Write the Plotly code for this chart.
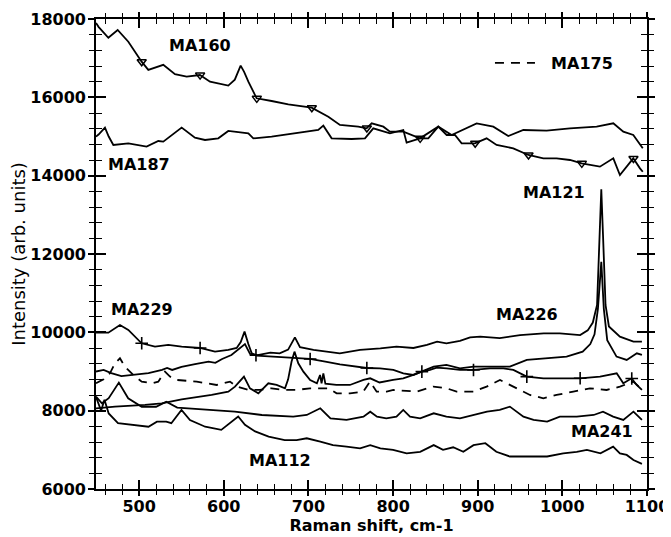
import numpy as np
import plotly.graph_objects as go

# ---------------- data (Raman shift in cm-1, intensity in arb. units) ----------------
ma160_x = [449, 452, 463.6, 474.6, 487.2, 502.9, 510.8, 528.5, 542.3, 556.1, 571.8, 583.7, 605.3, 613, 619.9,
           624, 629, 638.8, 656.5, 676.2, 703.8, 723.5, 737.2, 758.9, 768.7, 774.7, 788.5, 796.3, 812.1, 831.8,
           841.6, 853.4, 863.3, 873.1, 881, 896.7, 910.5, 922.3, 942, 959.8, 977.5, 993.2, 1009, 1022.8, 1044.4,
           1060.2, 1068, 1083.8, 1091.7, 1095]
ma160_y = [17900, 17800, 17520, 17720, 17420, 16910, 16700, 16830, 16590, 16530, 16570, 16400, 16300, 16450, 16810,
           16650, 16400, 15975, 15906, 15821, 15736, 15506, 15294, 15251, 15209, 15336, 15251, 15123, 15123, 14953,
           14953, 15251, 15038, 15038, 14826, 14826, 14953, 14783, 14698, 14528, 14443, 14443, 14400, 14315, 14230,
           14443, 14017, 14443, 14187, 14100]
ma160_marks = [503, 572, 639, 704, 769, 832, 897, 960, 1023, 1084]

ma187_x = [449, 452, 459.6, 464, 469.5, 487.2, 508.8, 522.6, 528.5, 550.2, 565.9, 577.8, 593.5, 605.3, 629,
           634.9, 656.5, 684.1, 711.6, 717.6, 727.4, 751, 766.8, 776.6, 796.3, 812.1, 816, 831.8, 853.4, 869.2,
           886.9, 898.7, 918.4, 936.1, 953.9, 981.4, 1009, 1040.5, 1060.2, 1072, 1083.8, 1091.7, 1095]
ma187_y = [14996, 15050, 15226, 15000, 14783, 14826, 14741, 14885, 14868, 15226, 14970, 14911, 14953, 15141, 15081,
           14953, 14996, 15081, 15166, 15277, 14953, 14936, 14953, 15209, 15081, 15166, 14843, 14953, 15251, 15038,
           15208, 15336, 15251, 15013, 15166, 15149, 15208, 15251, 15336, 15123, 15038, 14783, 14700]

ma121_x = [449, 458, 467, 479, 495, 511, 527, 533, 539, 550, 566, 582, 590, 598, 609, 619, 625, 631, 640, 655,
           666, 676, 684, 690, 706, 737, 761, 785, 804, 824, 840, 852, 863, 879, 891, 903, 926, 950, 978, 997,
           1021, 1030, 1036, 1041, 1044, 1046, 1048, 1051, 1055, 1068, 1084, 1094]
ma121_y = [9000, 9040, 8960, 8880, 8920, 8960, 9040, 9090, 9040, 9120, 9190, 9250, 9220, 9320, 9420, 9600, 9700,
           9450, 9420, 9480, 9465, 9560, 9870, 9620, 9550, 9465, 9550, 9592, 9635, 9600, 9677, 9762, 9720, 9780,
           9870, 9890, 9850, 9930, 9975, 9975, 9930, 10050, 10250, 10700, 12500, 13650, 12500, 10700, 10150, 9890,
           9763, 9763]

ma226_x = [449, 471.4, 506.9, 526.6, 550.2, 566, 585.6, 605.3, 613.2, 623.8, 630.9, 640.8, 652.6, 662.4, 672.3,
           676, 680, 683.5, 688, 694, 702, 710, 713.7, 715.5, 717.6, 720, 733, 749, 765, 773, 784, 800, 812, 824,
           848, 863, 879, 895, 918, 938, 958, 982, 1005, 1024, 1033, 1038, 1042, 1046, 1049, 1053, 1064, 1076,
           1088, 1094]
ma226_y = [8060, 8103, 8146, 8188, 8290, 8341, 8401, 8486, 8614, 8869, 8571, 8443, 8699, 8656, 8571,
           8800, 9250, 9507, 9210, 8997, 8784, 8699, 8912, 8700, 8954, 8690, 8656, 8656, 8784, 8826, 8720, 8784,
           8826, 8912, 9124, 9167, 9080, 9124, 9124, 9124, 9295, 9337, 9380, 9507, 9700, 9950, 10600, 11800,
           10600, 9800, 9380, 9295, 9465, 9422]

ma229_x = [449, 454, 463.6, 477.3, 487.2, 502.9, 518.7, 534.4, 550.2, 571.9, 589.6, 605.3, 615.2, 620, 624.5,
           629, 633, 638.8, 660, 680, 701.8, 720, 737.2, 768.8, 784.5, 800.3, 812.1, 823.9, 833.8, 843.6, 851.5,
           863.3, 879, 894.9, 914.5, 930.3, 942.1, 957.9, 977.6, 997.2, 1020.9, 1044.5, 1064.2, 1072, 1081.9,
           1087.8, 1094]
ma229_y = [9990, 9992, 9992, 10188, 10060, 9720, 9635, 9677, 9635, 9600, 9507, 9550, 9600, 9750, 10018,
           9700, 9465, 9405, 9380, 9360, 9320, 9250, 9184, 9090, 9080, 9039, 8954, 8912, 8997, 9039, 9100,
           9082, 9039, 9039, 9082, 9082, 9039, 8869, 8826, 8826, 8826, 8869, 8954, 8699, 8826, 8656, 8529]
ma229_marks = [503, 572, 638, 702, 769, 834, 895, 958, 1021, 1082]

ma175_x = [449, 458, 465.5, 471.4, 477.3, 483.2, 493.1, 503, 514.8, 522.6, 530.5, 536.4, 544.3, 568, 591.5,
           607.3, 615.2, 629, 642.7, 656.5, 670.3, 686, 701.8, 723.5, 733.3, 749.1, 764.8, 772.7, 780.6, 792.4,
           800.3, 827.8, 847.5, 863.3, 875.1, 894.8, 910.5, 926.3, 934.1, 942, 949.9, 961.7, 977.5, 993.2,
           1012.9, 1032.6, 1052.3, 1068, 1083.8, 1095]
ma175_y = [8700, 8800, 8954, 9210, 9337, 9124, 8911, 8741, 8699, 8741, 8997, 8869, 8784, 8741, 8656,
           8741, 8614, 8529, 8529, 8571, 8529, 8529, 8571, 8571, 8443, 8443, 8486, 8741, 8486, 8486,
           8528, 8486, 8614, 8571, 8486, 8486, 8614, 8784, 8699, 8614, 8528, 8401, 8316, 8401,
           8486, 8571, 8528, 8614, 8741, 8528]

ma241_x = [449, 456, 464, 470, 476, 487, 503, 520, 532, 545, 558, 586, 613, 645, 672, 682, 698, 714, 726, 745,
           765, 773, 781, 792, 804, 812, 820, 832, 848, 863, 879, 895, 911, 926, 938, 954, 966, 982, 997, 1017,
           1037, 1048, 1060, 1072, 1084, 1094]
ma241_y = [8360, 8190, 8320, 8530, 8716, 8316, 8100, 8100, 8230, 8080, 8060, 8020, 7975, 7890, 7848, 7848, 7890,
           8061, 7805, 7763, 7848, 7975, 7848, 7805, 7848, 8018, 7848, 7805, 7933, 7848, 7805, 7890, 7975, 8018,
           8103, 7848, 7763, 7720, 7848, 7848, 7890, 7975, 7848, 7763, 7975, 7763]

ma112_x = [449, 452, 455, 459, 464, 475, 495, 511, 521, 532, 538, 550, 560, 578, 597, 617, 625, 637, 653, 672,
           686, 698, 714, 729, 745, 761, 773, 785, 800, 816, 832, 848, 859, 871, 883, 895, 909, 922, 938, 958,
           982, 1001, 1017, 1029, 1045, 1060, 1068, 1076, 1084, 1094]
ma112_y = [8350, 8150, 8000, 8280, 7930, 7680, 7640, 7590, 7720, 7720, 7680, 8020, 7760, 7590, 7510, 7850, 7640,
           7470, 7340, 7250, 7250, 7295, 7210, 7120, 7080, 7040, 7120, 7040, 7000, 6910, 6950, 7120, 7000, 7065,
           6950, 7120, 7170, 6950, 6830, 6830, 6830, 6910, 6950, 7000, 6910, 7080, 6910, 6870, 6740, 6640]

# label positions (data coordinates)
label_text = ["MA160", "MA187", "MA121", "MA229", "MA226", "MA241", "MA112"]
label_x = [571.9, 499.8, 990.1, 503.9, 958.8, 1046.5, 666.4]
label_y = [17311, 14273, 13558, 10571, 10443, 7464, 6728]

X_RANGE = [449, 1100]
Y_RANGE = [6000, 18000]

# ---------------- figure ----------------
fig = go.Figure()
LW = 1.8

def add_series(x, y, name, dash="solid", legend=False, legend_label=None):
    fig.add_trace(go.Scatter(x=x, y=y, mode="lines", name=legend_label or name,
                             line=dict(color="black", width=LW, dash=dash),
                             showlegend=legend, hoverinfo="x+y"))

add_series(ma160_x, ma160_y, "MA160")
add_series(ma187_x, ma187_y, "MA187")
add_series(ma121_x, ma121_y, "MA121")
add_series(ma226_x, ma226_y, "MA226")
add_series(ma229_x, ma229_y, "MA229")
add_series(ma241_x, ma241_y, "MA241")
add_series(ma112_x, ma112_y, "MA112")
add_series(ma175_x, ma175_y, "MA175", dash="9px,7px", legend=True,
           legend_label="\u00a0\u00a0MA175")

fig.add_trace(go.Scatter(x=ma160_marks, y=np.interp(ma160_marks, ma160_x, ma160_y), mode="markers",
                         marker=dict(symbol="triangle-down-open", size=8, color="black",
                                     line=dict(width=1.5, color="black")),
                         showlegend=False, name="MA160"))
fig.add_trace(go.Scatter(x=ma229_marks, y=np.interp(ma229_marks, ma229_x, ma229_y), mode="markers",
                         marker=dict(symbol="cross-thin-open", size=9, color="black",
                                     line=dict(width=1.6, color="black")),
                         showlegend=False, name="MA229"))

# helper trace so the overlay axes (inside ticks) are drawn
fig.add_trace(go.Scatter(x=[None], y=[None], xaxis="x2", yaxis="y2", showlegend=False, hoverinfo="skip"))

tick_font = dict(family="DejaVu Sans", size=16, color="black", weight="bold")

for txt, lx, ly in zip(label_text, label_x, label_y):
    fig.add_annotation(x=lx, y=ly, text=txt, showarrow=False, xref="x", yref="y",
                       font=dict(family="DejaVu Sans", size=16, color="black", weight="bold"),
                       xanchor="center", yanchor="middle")

common = dict(showgrid=False, zeroline=False, showline=True, linecolor="black", linewidth=1.6,
              mirror="ticks", tickcolor="black", tickwidth=1.5, automargin=False)

fig.update_layout(
    width=671, height=537,
    margin=dict(l=88, r=32, t=11, b=56, autoexpand=False),
    paper_bgcolor="white", plot_bgcolor="white",
    xaxis=dict(range=X_RANGE, tick0=0, dtick=100, ticks="outside", ticklen=5, tickformat="d",
               ticklabelstandoff=-3,
               minor=dict(dtick=20, tick0=0, ticks="outside", ticklen=4, tickwidth=1.2, tickcolor="black"),
               tickfont=tick_font,
               title=dict(text="Raman shift, cm-1", standoff=0,
                          font=dict(family="DejaVu Sans", size=16, color="black", weight="bold")),
               **common),
    yaxis=dict(range=Y_RANGE, tick0=0, dtick=2000, ticks="outside", ticklen=6, tickformat="d",
               ticklabelstandoff=-1,
               minor=dict(dtick=400, tick0=0, ticks="outside", ticklen=5, tickwidth=1.2, tickcolor="black"),
               tickfont=tick_font,
               title=dict(text="Intensity (arb. units)", standoff=0,
                          font=dict(family="DejaVu Sans", size=18, color="black")),
               **common),
    xaxis2=dict(range=X_RANGE, overlaying="x", anchor="y2", tick0=0, dtick=100, ticks="inside", ticklen=9,
                minor=dict(dtick=20, tick0=0, ticks="inside", ticklen=5, tickwidth=1.2, tickcolor="black"),
                showticklabels=False, **common),
    yaxis2=dict(range=Y_RANGE, overlaying="y", anchor="x2", tick0=0, dtick=2000, ticks="inside", ticklen=10,
                minor=dict(dtick=400, tick0=0, ticks="inside", ticklen=6, tickwidth=1.2, tickcolor="black"),
                showticklabels=False, **common),
    legend=dict(x=0.715, y=0.9425, xanchor="left", yanchor="top", bgcolor="rgba(0,0,0,0)",
                font=dict(family="DejaVu Sans", size=16, color="black", weight="bold"),
                itemwidth=40),
    showlegend=True,
)

fig.write_html("out.html")
